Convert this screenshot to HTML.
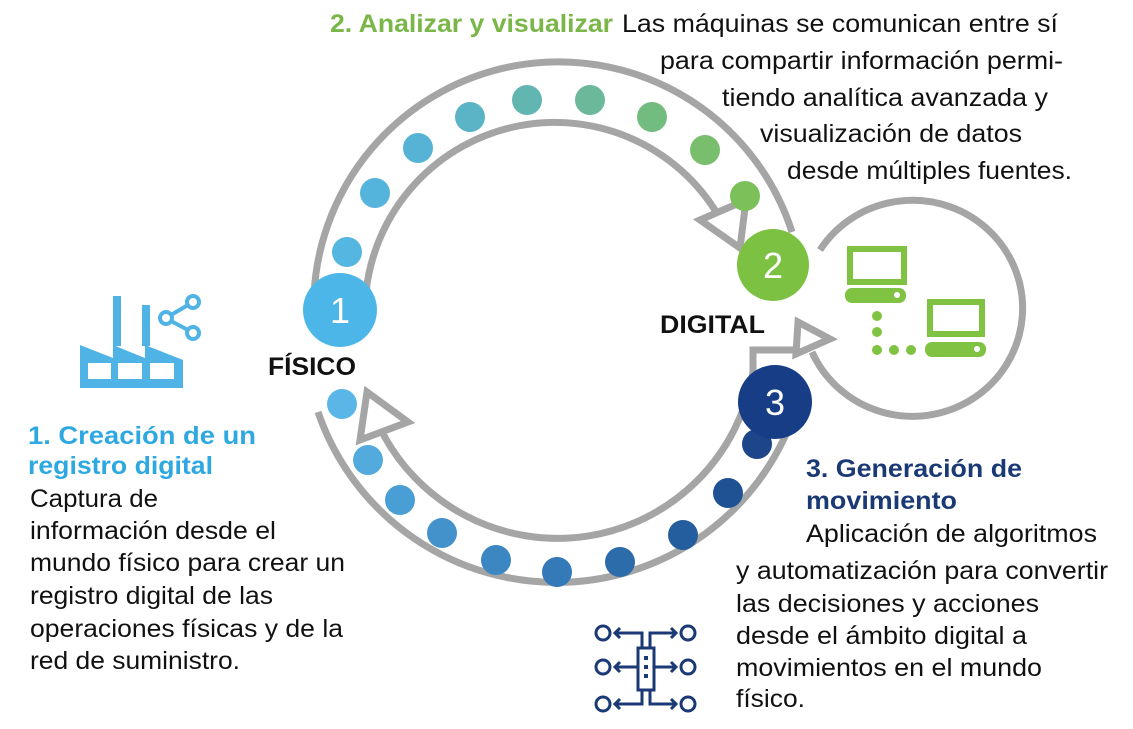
<!DOCTYPE html>
<html><head><meta charset="utf-8"><style>
html,body{margin:0;padding:0;background:#fff;width:1133px;height:729px;overflow:hidden}
svg{display:block}
text{font-family:"Liberation Sans",Arial,sans-serif;font-size:25px;fill:#111}
.b{font-weight:bold}
</style></head><body>
<svg width="1133" height="729" viewBox="0 0 1133 729" xmlns="http://www.w3.org/2000/svg">
<g fill="none" stroke="#a5a5a5" stroke-width="7" stroke-linejoin="miter">
 <path d="M 314 295 A 245 245 0 0 1 792 232"/>
 <path d="M 366 292 A 190 190 0 0 1 722 222"/>
 <polygon points="700,220 746,200 740,248" fill="#fff"/>
 <path d="M 318 412 A 252 252 0 0 0 800 395"/>
 <path d="M 380 428 A 198 198 0 0 0 753 372"/>
 <polygon points="367,392 408,422 360,440" fill="#fff"/>
 <polyline points="753,372 753,350 800,350 800,336"/>
 <polygon points="798,322 830,339 796,354" fill="#fff"/>
 <path d="M 820 250 A 110 108 0 1 1 812 352"/>
</g>
<circle cx="347" cy="252" r="15" fill="#56b6e2"/>
<circle cx="375" cy="193" r="15" fill="#55b4dc"/>
<circle cx="418" cy="148" r="15" fill="#56b3d5"/>
<circle cx="470" cy="117" r="15" fill="#5ab4c6"/>
<circle cx="527" cy="100" r="15" fill="#62b6b2"/>
<circle cx="590" cy="100" r="15" fill="#6bb99a"/>
<circle cx="652" cy="117" r="15" fill="#73bc80"/>
<circle cx="705" cy="150" r="15" fill="#79be6c"/>
<circle cx="745" cy="196" r="15" fill="#7cc05a"/>
<circle cx="342" cy="404" r="15" fill="#5ab6e6"/>
<circle cx="368" cy="460" r="15" fill="#52aadd"/>
<circle cx="400" cy="500" r="15" fill="#4a9ed6"/>
<circle cx="442" cy="533" r="15" fill="#4392cc"/>
<circle cx="496" cy="560" r="15" fill="#3c86c2"/>
<circle cx="557" cy="572" r="15" fill="#3479b8"/>
<circle cx="620" cy="562" r="15" fill="#2c6cab"/>
<circle cx="683" cy="535" r="15" fill="#245e9e"/>
<circle cx="728" cy="493" r="15" fill="#1f5293"/>
<circle cx="757" cy="444" r="15" fill="#1c4689"/>
<circle cx="340" cy="310" r="37" fill="#4db6e8"/>
<text x="340" y="323" text-anchor="middle" style="font-size:36px;fill:#fff">1</text>
<circle cx="773" cy="265" r="36" fill="#7dc142"/>
<text x="773" y="278" text-anchor="middle" style="font-size:36px;fill:#fff">2</text>
<circle cx="775" cy="402" r="37" fill="#163d85"/>
<text x="775" y="415" text-anchor="middle" style="font-size:36px;fill:#fff">3</text>
<g fill="none" stroke="#80c342" stroke-width="6">
 <rect x="850" y="249" width="54" height="33"/>
 <rect x="930" y="302" width="52" height="32"/>
</g>
<g fill="#80c342">
 <rect x="845" y="288" width="61" height="15" rx="7"/>
 <rect x="925" y="342" width="61" height="15" rx="7"/>
 <circle cx="877" cy="316" r="5"/><circle cx="877" cy="332" r="5"/><circle cx="877" cy="350" r="5"/>
 <circle cx="894" cy="350" r="5"/><circle cx="911" cy="350" r="5"/>
</g>
<circle cx="897" cy="295" r="3" fill="#fff"/><circle cx="977" cy="349" r="3" fill="#fff"/>
<g fill="#4fb3e6">
 <rect x="113" y="296" width="8" height="50"/>
 <rect x="142" y="305" width="8" height="41"/>
 <polygon points="80,388 80,345 113,358 113,345 145,358 145,345 183,360 183,388"/>
</g>
<g fill="#fff">
 <rect x="88" y="363" width="23" height="16"/><rect x="118" y="363" width="24" height="16"/><rect x="150" y="363" width="24" height="16"/>
</g>
<g fill="none" stroke="#4fb3e6" stroke-width="4">
 <circle cx="193" cy="302" r="6"/><circle cx="166" cy="318" r="6"/><circle cx="193" cy="333" r="6"/>
 <line x1="171" y1="315" x2="188" y2="305"/><line x1="171" y1="321" x2="188" y2="330"/>
</g>
<g fill="none" stroke="#1b3a75" stroke-width="3">
 <circle cx="603" cy="633" r="7"/><circle cx="688" cy="633" r="7"/>
 <circle cx="603" cy="667" r="7"/><circle cx="688" cy="667" r="7"/>
 <circle cx="603" cy="704" r="7"/><circle cx="688" cy="704" r="7"/>
 <rect x="638" y="648" width="16" height="42"/>
 <polyline points="642,648 642,633 615,633"/><polyline points="620,628 615,633 620,638"/>
 <polyline points="650,648 650,633 676,633"/><polyline points="671,628 676,633 671,638"/>
 <line x1="638" y1="667" x2="615" y2="667"/><polyline points="620,662 615,667 620,672"/>
 <line x1="654" y1="667" x2="676" y2="667"/><polyline points="671,662 676,667 671,672"/>
 <polyline points="642,690 642,704 615,704"/><polyline points="620,699 615,704 620,709"/>
 <polyline points="650,690 650,704 676,704"/><polyline points="671,699 676,704 671,709"/>
</g>
<g fill="#1b3a75"><rect x="644" y="656" width="4" height="4"/><rect x="644" y="665" width="4" height="4"/><rect x="644" y="674" width="4" height="4"/></g>
<g lengthAdjust="spacingAndGlyphs">
<text class="b" x="268" y="375" textLength="88" lengthAdjust="spacingAndGlyphs">FÍSICO</text>
<text class="b" x="660" y="333" textLength="105" lengthAdjust="spacingAndGlyphs">DIGITAL</text>
<text class="b" x="330" y="32" textLength="283" lengthAdjust="spacingAndGlyphs" style="fill:#7ab648">2. Analizar y visualizar</text>
<text x="622" y="32" textLength="436" lengthAdjust="spacingAndGlyphs">Las máquinas se comunican entre sí</text>
<text x="660" y="69" textLength="403" lengthAdjust="spacingAndGlyphs">para compartir información permi-</text>
<text x="722" y="106" textLength="326" lengthAdjust="spacingAndGlyphs">tiendo analítica avanzada y</text>
<text x="760" y="142" textLength="262" lengthAdjust="spacingAndGlyphs">visualización de datos</text>
<text x="787" y="179" textLength="285" lengthAdjust="spacingAndGlyphs">desde múltiples fuentes.</text>
<text class="b" x="28" y="444" textLength="228" lengthAdjust="spacingAndGlyphs" style="fill:#2ea8e0">1.  Creación de un</text>
<text class="b" x="28" y="474" textLength="185" lengthAdjust="spacingAndGlyphs" style="fill:#2ea8e0">registro digital</text>
<text x="30" y="507" textLength="128" lengthAdjust="spacingAndGlyphs">Captura de</text>
<text x="30" y="539" textLength="246" lengthAdjust="spacingAndGlyphs">información desde el</text>
<text x="30" y="571" textLength="315" lengthAdjust="spacingAndGlyphs">mundo físico para crear un</text>
<text x="30" y="604" textLength="243" lengthAdjust="spacingAndGlyphs">registro digital de las</text>
<text x="30" y="637" textLength="313" lengthAdjust="spacingAndGlyphs">operaciones físicas y de la</text>
<text x="30" y="669" textLength="210" lengthAdjust="spacingAndGlyphs">red de suministro.</text>
<text class="b" x="806" y="477" textLength="216" lengthAdjust="spacingAndGlyphs" style="fill:#1b3a75">3. Generación de</text>
<text class="b" x="806" y="509" textLength="151" lengthAdjust="spacingAndGlyphs" style="fill:#1b3a75">movimiento</text>
<text x="806" y="542" textLength="291" lengthAdjust="spacingAndGlyphs">Aplicación de algoritmos</text>
<text x="736" y="579" textLength="372" lengthAdjust="spacingAndGlyphs">y automatización para convertir</text>
<text x="736" y="612" textLength="303" lengthAdjust="spacingAndGlyphs">las decisiones y acciones</text>
<text x="736" y="644" textLength="291" lengthAdjust="spacingAndGlyphs">desde el ámbito digital a</text>
<text x="736" y="676" textLength="306" lengthAdjust="spacingAndGlyphs">movimientos en el mundo</text>
<text x="736" y="707" textLength="69" lengthAdjust="spacingAndGlyphs">físico.</text>
</g>
</svg>
</body></html>
